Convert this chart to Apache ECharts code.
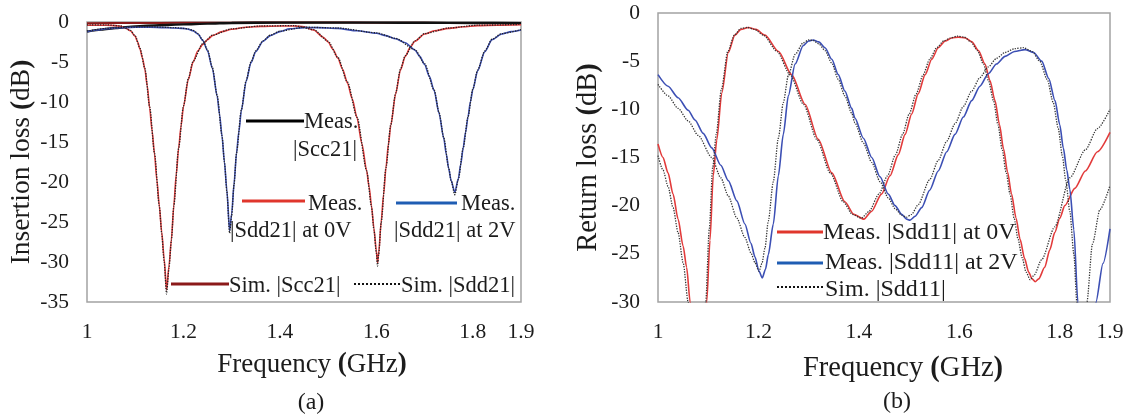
<!DOCTYPE html>
<html><head><meta charset="utf-8">
<script src="https://cdn.jsdelivr.net/npm/echarts/dist/echarts.min.js"></script>
<style>html,body{margin:0;padding:0;background:#fff}#c{width:1128px;height:420px}</style>
</head><body><div id="c"></div>
<script>
// ---------- tick labels ----------
const xTickLabels = ['1', '1.2', '1.4', '1.6', '1.8', '1.9'];
const yRangeA = [-35, 0];
const yRangeB = [-30, 0];

// ---------- (a) Insertion loss, [GHz, dB] ----------
const measScc21 = [[1.00,-1.2],[1.03,-0.95],[1.06,-0.75],[1.10,-0.55],[1.15,-0.4],[1.20,-0.3],[1.25,-0.2],[1.30,-0.12],[1.40,-0.08],[1.50,-0.08],[1.60,-0.08],[1.70,-0.1],[1.80,-0.12],[1.90,-0.15]];
const simScc21 = [[1.00,-0.15],[1.10,-0.12],[1.20,-0.1],[1.30,-0.08],[1.40,-0.07],[1.50,-0.07],[1.60,-0.08],[1.70,-0.1],[1.80,-0.12],[1.90,-0.15]];
const measSdd21_0V = [[1.00,-0.4],[1.02,-0.4],[1.04,-0.4],[1.06,-0.45],[1.07,-0.55],[1.08,-0.75],[1.09,-1.1],[1.10,-1.8],[1.105,-2.5],[1.11,-3.4],[1.115,-4.5],[1.12,-5.9],[1.125,-8.0],[1.13,-10.8],[1.135,-13.6],[1.14,-16.5],[1.145,-19.8],[1.15,-23.0],[1.155,-26.3],[1.16,-29.6],[1.165,-33.5],[1.17,-30.5],[1.175,-27.2],[1.18,-23.0],[1.185,-19.1],[1.19,-15.8],[1.195,-13.0],[1.20,-10.6],[1.21,-7.2],[1.22,-5.0],[1.23,-3.6],[1.24,-2.8],[1.25,-2.2],[1.26,-1.7],[1.28,-1.2],[1.30,-0.9],[1.33,-0.65],[1.36,-0.55],[1.40,-0.5],[1.43,-0.5],[1.45,-0.6],[1.47,-1.0],[1.49,-1.9],[1.50,-2.5],[1.51,-3.4],[1.52,-4.5],[1.53,-5.9],[1.54,-7.6],[1.55,-9.6],[1.56,-12.0],[1.57,-15.2],[1.58,-18.6],[1.585,-20.6],[1.59,-23.0],[1.595,-25.8],[1.60,-28.6],[1.6025,-30.1],[1.605,-28.8],[1.61,-25.0],[1.615,-21.6],[1.62,-18.2],[1.625,-15.3],[1.63,-12.9],[1.64,-9.0],[1.65,-6.0],[1.66,-4.3],[1.67,-3.2],[1.68,-2.4],[1.70,-1.5],[1.72,-1.1],[1.75,-0.8],[1.78,-0.6],[1.81,-0.45],[1.85,-0.4],[1.90,-0.35]];
const measSdd21_2V = [[1.00,-1.2],[1.02,-1.0],[1.04,-0.85],[1.06,-0.75],[1.08,-0.7],[1.10,-0.65],[1.13,-0.65],[1.16,-0.7],[1.18,-0.75],[1.20,-0.8],[1.21,-0.9],[1.22,-1.1],[1.23,-1.5],[1.24,-2.3],[1.25,-3.6],[1.26,-5.8],[1.27,-9.3],[1.275,-11.6],[1.28,-14.3],[1.285,-17.5],[1.29,-21.0],[1.2957,-26.1],[1.30,-24.0],[1.305,-20.2],[1.31,-16.4],[1.315,-13.7],[1.32,-11.1],[1.33,-7.4],[1.34,-5.1],[1.35,-3.7],[1.365,-2.4],[1.38,-1.7],[1.40,-1.2],[1.42,-0.85],[1.45,-0.7],[1.48,-0.7],[1.52,-0.8],[1.56,-1.1],[1.60,-1.4],[1.62,-1.7],[1.64,-2.1],[1.66,-2.6],[1.68,-3.5],[1.69,-4.3],[1.70,-5.3],[1.71,-6.8],[1.72,-8.6],[1.73,-11.4],[1.74,-14.6],[1.745,-16.5],[1.75,-18.3],[1.755,-19.8],[1.7627,-21.3],[1.77,-19.6],[1.775,-17.8],[1.78,-15.8],[1.785,-13.8],[1.79,-11.9],[1.795,-10.0],[1.80,-8.5],[1.81,-6.1],[1.825,-3.7],[1.84,-2.2],[1.86,-1.5],[1.88,-1.2],[1.90,-1.0]];
const simSdd21_0V = [[1.00,-0.35],[1.04,-0.35],[1.07,-0.5],[1.09,-1.05],[1.10,-1.75],[1.11,-3.3],[1.12,-5.8],[1.13,-10.6],[1.14,-16.4],[1.15,-23.0],[1.155,-26.5],[1.16,-30.0],[1.165,-34.0],[1.17,-30.8],[1.175,-27.3],[1.18,-23.0],[1.19,-15.8],[1.20,-10.5],[1.21,-7.1],[1.22,-4.9],[1.24,-2.7],[1.26,-1.65],[1.30,-0.85],[1.36,-0.5],[1.43,-0.45],[1.47,-0.95],[1.50,-2.4],[1.52,-4.4],[1.54,-7.5],[1.56,-11.9],[1.58,-18.6],[1.59,-23.1],[1.595,-26.0],[1.60,-28.9],[1.6025,-30.5],[1.605,-29.0],[1.61,-25.1],[1.62,-18.2],[1.63,-12.8],[1.64,-8.9],[1.65,-5.9],[1.66,-4.2],[1.68,-2.35],[1.70,-1.45],[1.75,-0.75],[1.81,-0.4],[1.90,-0.3]];
const simSdd21_2V = [[1.00,-1.15],[1.04,-0.8],[1.08,-0.65],[1.13,-0.6],[1.18,-0.7],[1.21,-0.85],[1.22,-1.05],[1.23,-1.45],[1.24,-2.25],[1.25,-3.5],[1.26,-5.7],[1.27,-9.2],[1.28,-14.2],[1.285,-17.5],[1.29,-21.2],[1.2957,-26.4],[1.30,-24.2],[1.305,-20.3],[1.31,-16.4],[1.32,-11.0],[1.33,-7.3],[1.34,-5.0],[1.35,-3.6],[1.365,-2.35],[1.38,-1.65],[1.40,-1.15],[1.45,-0.65],[1.52,-0.75],[1.60,-1.35],[1.64,-2.05],[1.68,-3.45],[1.70,-5.2],[1.72,-8.5],[1.73,-11.3],[1.74,-14.5],[1.75,-18.2],[1.755,-19.8],[1.7627,-21.6],[1.77,-19.7],[1.78,-15.8],[1.79,-11.9],[1.80,-8.4],[1.81,-6.0],[1.825,-3.6],[1.84,-2.15],[1.86,-1.45],[1.90,-0.95]];

// ---------- (b) Return loss, [GHz, dB] ----------
const measSdd11_0V = [[1.000,-13.6],[1.010,-15.0],[1.020,-16.6],[1.030,-18.8],[1.040,-21.4],[1.050,-24.2],[1.057,-26.4],[1.064,-30.0],[1.075,-36],[1.085,-40],[1.092,-36],[1.097,-30.0],[1.1035,-23.6],[1.110,-16.9],[1.117,-13.2],[1.127,-8.3],[1.140,-4.1],[1.153,-2.3],[1.165,-1.7],[1.180,-1.5],[1.195,-1.7],[1.213,-2.3],[1.240,-4.0],[1.266,-6.4],[1.293,-9.5],[1.319,-13.1],[1.346,-16.6],[1.372,-19.6],[1.390,-20.9],[1.410,-21.4],[1.425,-20.6],[1.445,-18.8],[1.462,-16.9],[1.4785,-14.7],[1.492,-12.6],[1.505,-10.5],[1.518,-8.4],[1.532,-6.4],[1.545,-4.8],[1.558,-3.6],[1.572,-2.9],[1.585,-2.6],[1.598,-2.5],[1.612,-2.6],[1.625,-3.0],[1.638,-3.9],[1.651,-5.3],[1.661,-7.0],[1.671,-9.1],[1.680,-11.6],[1.688,-14.1],[1.696,-16.5],[1.704,-18.8],[1.713,-21.3],[1.721,-23.5],[1.730,-25.5],[1.738,-26.9],[1.745,-27.6],[1.751,-27.9],[1.758,-27.6],[1.770,-26.4],[1.780,-24.6],[1.790,-22.8],[1.800,-21.3],[1.810,-20.0],[1.830,-18.2],[1.851,-16.4],[1.875,-14.4],[1.900,-12.4]];
const measSdd11_2V = [[1.000,-6.4],[1.020,-7.6],[1.040,-8.8],[1.060,-10.1],[1.0737,-11.1],[1.090,-12.5],[1.107,-14.0],[1.125,-15.8],[1.140,-17.4],[1.157,-19.5],[1.173,-21.9],[1.185,-23.9],[1.193,-25.3],[1.201,-26.8],[1.2077,-27.5],[1.214,-26.6],[1.2196,-25.1],[1.2296,-21.9],[1.2396,-16.9],[1.2495,-12.6],[1.2595,-8.6],[1.273,-5.3],[1.289,-3.4],[1.300,-2.9],[1.309,-2.8],[1.320,-3.0],[1.3325,-3.6],[1.346,-4.8],[1.359,-6.4],[1.372,-8.1],[1.3857,-9.9],[1.392,-10.9],[1.409,-13.0],[1.4255,-15.0],[1.442,-17.0],[1.4586,-18.8],[1.472,-20.0],[1.4853,-20.9],[1.495,-21.4],[1.5018,-21.5],[1.512,-21.1],[1.525,-20.2],[1.541,-18.4],[1.558,-16.4],[1.575,-14.4],[1.5914,-12.6],[1.608,-10.8],[1.6246,-9.1],[1.641,-7.6],[1.6577,-6.3],[1.674,-5.3],[1.691,-4.5],[1.710,-4.0],[1.731,-3.8],[1.748,-4.1],[1.764,-5.0],[1.778,-6.8],[1.7905,-9.1],[1.800,-11.6],[1.807,-14.0],[1.814,-16.3],[1.820,-18.3],[1.828,-22.5],[1.836,-30],[1.845,-38],[1.855,-42],[1.865,-37],[1.872,-30.0],[1.886,-26.0],[1.900,-22.4]];
const simSdd11_0V = [[1.000,-14.8],[1.010,-16.3],[1.020,-18.0],[1.030,-20.2],[1.040,-22.8],[1.050,-25.9],[1.060,-30.0],[1.070,-36],[1.080,-41],[1.090,-35],[1.095,-30],[1.102,-22.5],[1.109,-16.0],[1.116,-12.6],[1.126,-8.0],[1.139,-4.0],[1.152,-2.3],[1.165,-1.6],[1.178,-1.5],[1.192,-1.7],[1.210,-2.3],[1.237,-4.0],[1.263,-6.4],[1.290,-9.5],[1.316,-13.1],[1.343,-16.6],[1.369,-19.6],[1.387,-20.9],[1.405,-21.3],[1.420,-20.6],[1.440,-18.8],[1.457,-16.9],[1.473,-14.7],[1.487,-12.6],[1.500,-10.5],[1.514,-8.4],[1.528,-6.4],[1.541,-4.8],[1.555,-3.6],[1.569,-2.9],[1.582,-2.6],[1.596,-2.4],[1.610,-2.5],[1.623,-3.0],[1.636,-3.9],[1.648,-5.3],[1.658,-7.0],[1.668,-9.1],[1.677,-11.6],[1.685,-14.1],[1.693,-16.5],[1.701,-18.8],[1.709,-21.3],[1.717,-23.5],[1.725,-25.4],[1.733,-26.9],[1.741,-27.7],[1.749,-27.2],[1.764,-25.6],[1.790,-22.2],[1.820,-17.1],[1.851,-14.2],[1.875,-12.0],[1.900,-10.0]];
const simSdd11_2V = [[1.000,-7.4],[1.020,-8.6],[1.040,-9.9],[1.060,-11.2],[1.080,-12.7],[1.107,-15.0],[1.125,-17.1],[1.140,-19.0],[1.157,-21.3],[1.173,-23.3],[1.185,-24.9],[1.193,-25.9],[1.201,-26.8],[1.207,-26.0],[1.213,-24.4],[1.2196,-21.6],[1.2296,-17.5],[1.2396,-13.0],[1.2495,-9.3],[1.2595,-6.5],[1.273,-4.3],[1.289,-3.1],[1.300,-2.8],[1.309,-2.85],[1.320,-3.2],[1.3325,-3.9],[1.346,-5.2],[1.359,-6.9],[1.372,-8.6],[1.3857,-10.4],[1.392,-11.4],[1.409,-13.5],[1.4255,-15.5],[1.442,-17.5],[1.4586,-19.2],[1.472,-20.3],[1.4853,-21.0],[1.495,-21.2],[1.505,-20.9],[1.518,-19.9],[1.541,-17.3],[1.558,-15.3],[1.575,-13.3],[1.5914,-11.5],[1.608,-9.7],[1.6246,-8.1],[1.641,-6.7],[1.6577,-5.6],[1.674,-4.7],[1.691,-4.1],[1.710,-3.7],[1.728,-3.6],[1.745,-4.0],[1.760,-5.0],[1.775,-6.9],[1.787,-9.3],[1.797,-12.0],[1.805,-14.8],[1.812,-17.4],[1.820,-20.6],[1.828,-25.0],[1.834,-30],[1.842,-38],[1.850,-37],[1.854,-30],[1.865,-24.0],[1.880,-20.4],[1.900,-17.9]];

// ---------- styling ----------
const FONT = '"Liberation Serif", "Times New Roman", serif';
const RED = '#e23b3b', BLUE = '#3c4fb4', LRED = '#e0362c', LBLUE = '#1f5db3', DRED = '#8b1a1a';
const TXT = '#1c1c1c';

function xAxis(grid, nameSize, gap, padLeft) {
  return {
    type: 'value', gridIndex: grid, min: 1, max: 1.9, interval: 0.1,
    axisLine: {show: false}, axisTick: {show: false}, splitLine: {show: false},
    axisLabel: {
      margin: 19, fontFamily: FONT, fontSize: 21.5, color: TXT,
      formatter: v => { const s = String(Math.round(v * 10) / 10); return xTickLabels.includes(s) ? s : ''; }
    },
    name: 'Frequency {b|(}GHz{b|)}', nameLocation: 'middle', nameGap: gap,
    nameTextStyle: {fontFamily: FONT, fontSize: nameSize, color: TXT, padding: [0, 0, 0, padLeft],
      rich: {b: {fontFamily: FONT, fontSize: nameSize, fontWeight: 'bold', color: TXT}}}
  };
}
function yAxis(grid, range, name, nameSize, gap) {
  return {
    type: 'value', gridIndex: grid, min: range[0], max: range[1], interval: 5,
    axisLine: {show: false}, axisTick: {show: false}, splitLine: {show: false},
    axisLabel: {margin: 18, fontFamily: FONT, fontSize: 21.5, color: TXT, padding: [5, 0, 0, 0]},
    name: name, nameLocation: 'middle', nameGap: gap,
    nameTextStyle: {fontFamily: FONT, fontSize: nameSize, color: TXT,
      rich: {b: {fontFamily: FONT, fontSize: nameSize, fontWeight: 'bold', color: TXT}}}
  };
}
function line(name, data, axis, color, width, type) {
  return {
    name, type: 'line', data, xAxisIndex: axis, yAxisIndex: axis, showSymbol: false, symbol: 'none',
    smooth: 0.25, smoothMonotone: 'x', clip: true, animation: false,
    lineStyle: {color, width, type: type || 'solid'}
  };
}
function legLine(x1, x2, y, color, dotted) {
  return {type: 'line', shape: {x1, y1: y, x2, y2: y},
    style: {stroke: color, lineWidth: dotted ? 2 : 3, lineDash: dotted ? [2, 2] : null}, z: 50};
}
function legText(x, y, text, size) {
  return {type: 'text', x, y, z: 50,
    style: {text, fontFamily: FONT, fontSize: size, fill: TXT, align: 'left', verticalAlign: 'middle'}};
}

const chart = echarts.init(document.getElementById('c'), null, {renderer: 'canvas'});
chart.setOption({
  animation: false,
  backgroundColor: '#fff',
  grid: [
    {left: 87, top: 22, width: 434, height: 280, show: true, borderColor: '#a3a3a3', borderWidth: 1.5, backgroundColor: 'transparent'},
    {left: 658, top: 13, width: 452, height: 289, show: true, borderColor: '#a3a3a3', borderWidth: 1.5, backgroundColor: 'transparent'}
  ],
  xAxis: [xAxis(0, 27, 49, 16), xAxis(1, 28.5, 52, 38)],
  yAxis: [
    yAxis(0, yRangeA, 'Insertion loss {b|(}dB{b|)}', 27.5, 51),
    yAxis(1, yRangeB, 'Return loss {b|(}dB{b|)}', 28.5, 55)
  ],
  series: [
    line('Sim. |Scc21|', simScc21, 0, DRED, 2),
    line('Meas. |Scc21|', measScc21, 0, '#111', 2.4),
    line('Meas. |Sdd21| at 0V', measSdd21_0V, 0, RED, 1.6),
    line('Meas. |Sdd21| at 2V', measSdd21_2V, 0, BLUE, 1.6),
    line('Sim. |Sdd21| 0V', simSdd21_0V, 0, '#222', 1.3, 'dotted'),
    line('Sim. |Sdd21| 2V', simSdd21_2V, 0, '#222', 1.3, 'dotted'),
    line('Meas. |Sdd11| at 0V', measSdd11_0V, 1, RED, 1.6),
    line('Meas. |Sdd11| at 2V', measSdd11_2V, 1, BLUE, 1.6),
    line('Sim. |Sdd11| 0V', simSdd11_0V, 1, '#333', 1.3, 'dotted'),
    line('Sim. |Sdd11| 2V', simSdd11_2V, 1, '#333', 1.3, 'dotted')
  ],
  graphic: [
    // (a) legend
    legLine(246, 304, 121, '#000'), legText(304, 122, 'Meas.', 22.5), legText(293, 150, '|Scc21|', 22.5),
    legLine(242, 305, 201, LRED), legText(308, 204, 'Meas.', 22.5), legText(230, 231, '|Sdd21| at 0V', 22.5),
    legLine(396, 457, 203, LBLUE), legText(461, 204, 'Meas.', 22.5), legText(394, 231, '|Sdd21| at 2V', 22.5),
    legLine(171, 229, 284, DRED), legText(229, 286, 'Sim. |Scc21|', 22.5),
    legLine(354, 401, 284, '#111', true), legText(401, 286, 'Sim. |Sdd21|', 22.5),
    // (b) legend
    legLine(777, 823, 232, LRED), legText(823, 233, 'Meas. |Sdd11| at 0V', 24),
    legLine(777, 823, 263, LBLUE), legText(825, 263, 'Meas. |Sdd11| at 2V', 24),
    legLine(777, 824, 287, '#111', true), legText(825, 290, 'Sim. |Sdd11|', 24),
    // captions
    {type: 'text', x: 311, y: 403, style: {text: '(a)', fontFamily: FONT, fontSize: 24, fill: TXT, align: 'center', verticalAlign: 'middle'}},
    {type: 'text', x: 897, y: 402, style: {text: '(b)', fontFamily: FONT, fontSize: 24, fill: TXT, align: 'center', verticalAlign: 'middle'}}
  ]
});
</script></body></html>
